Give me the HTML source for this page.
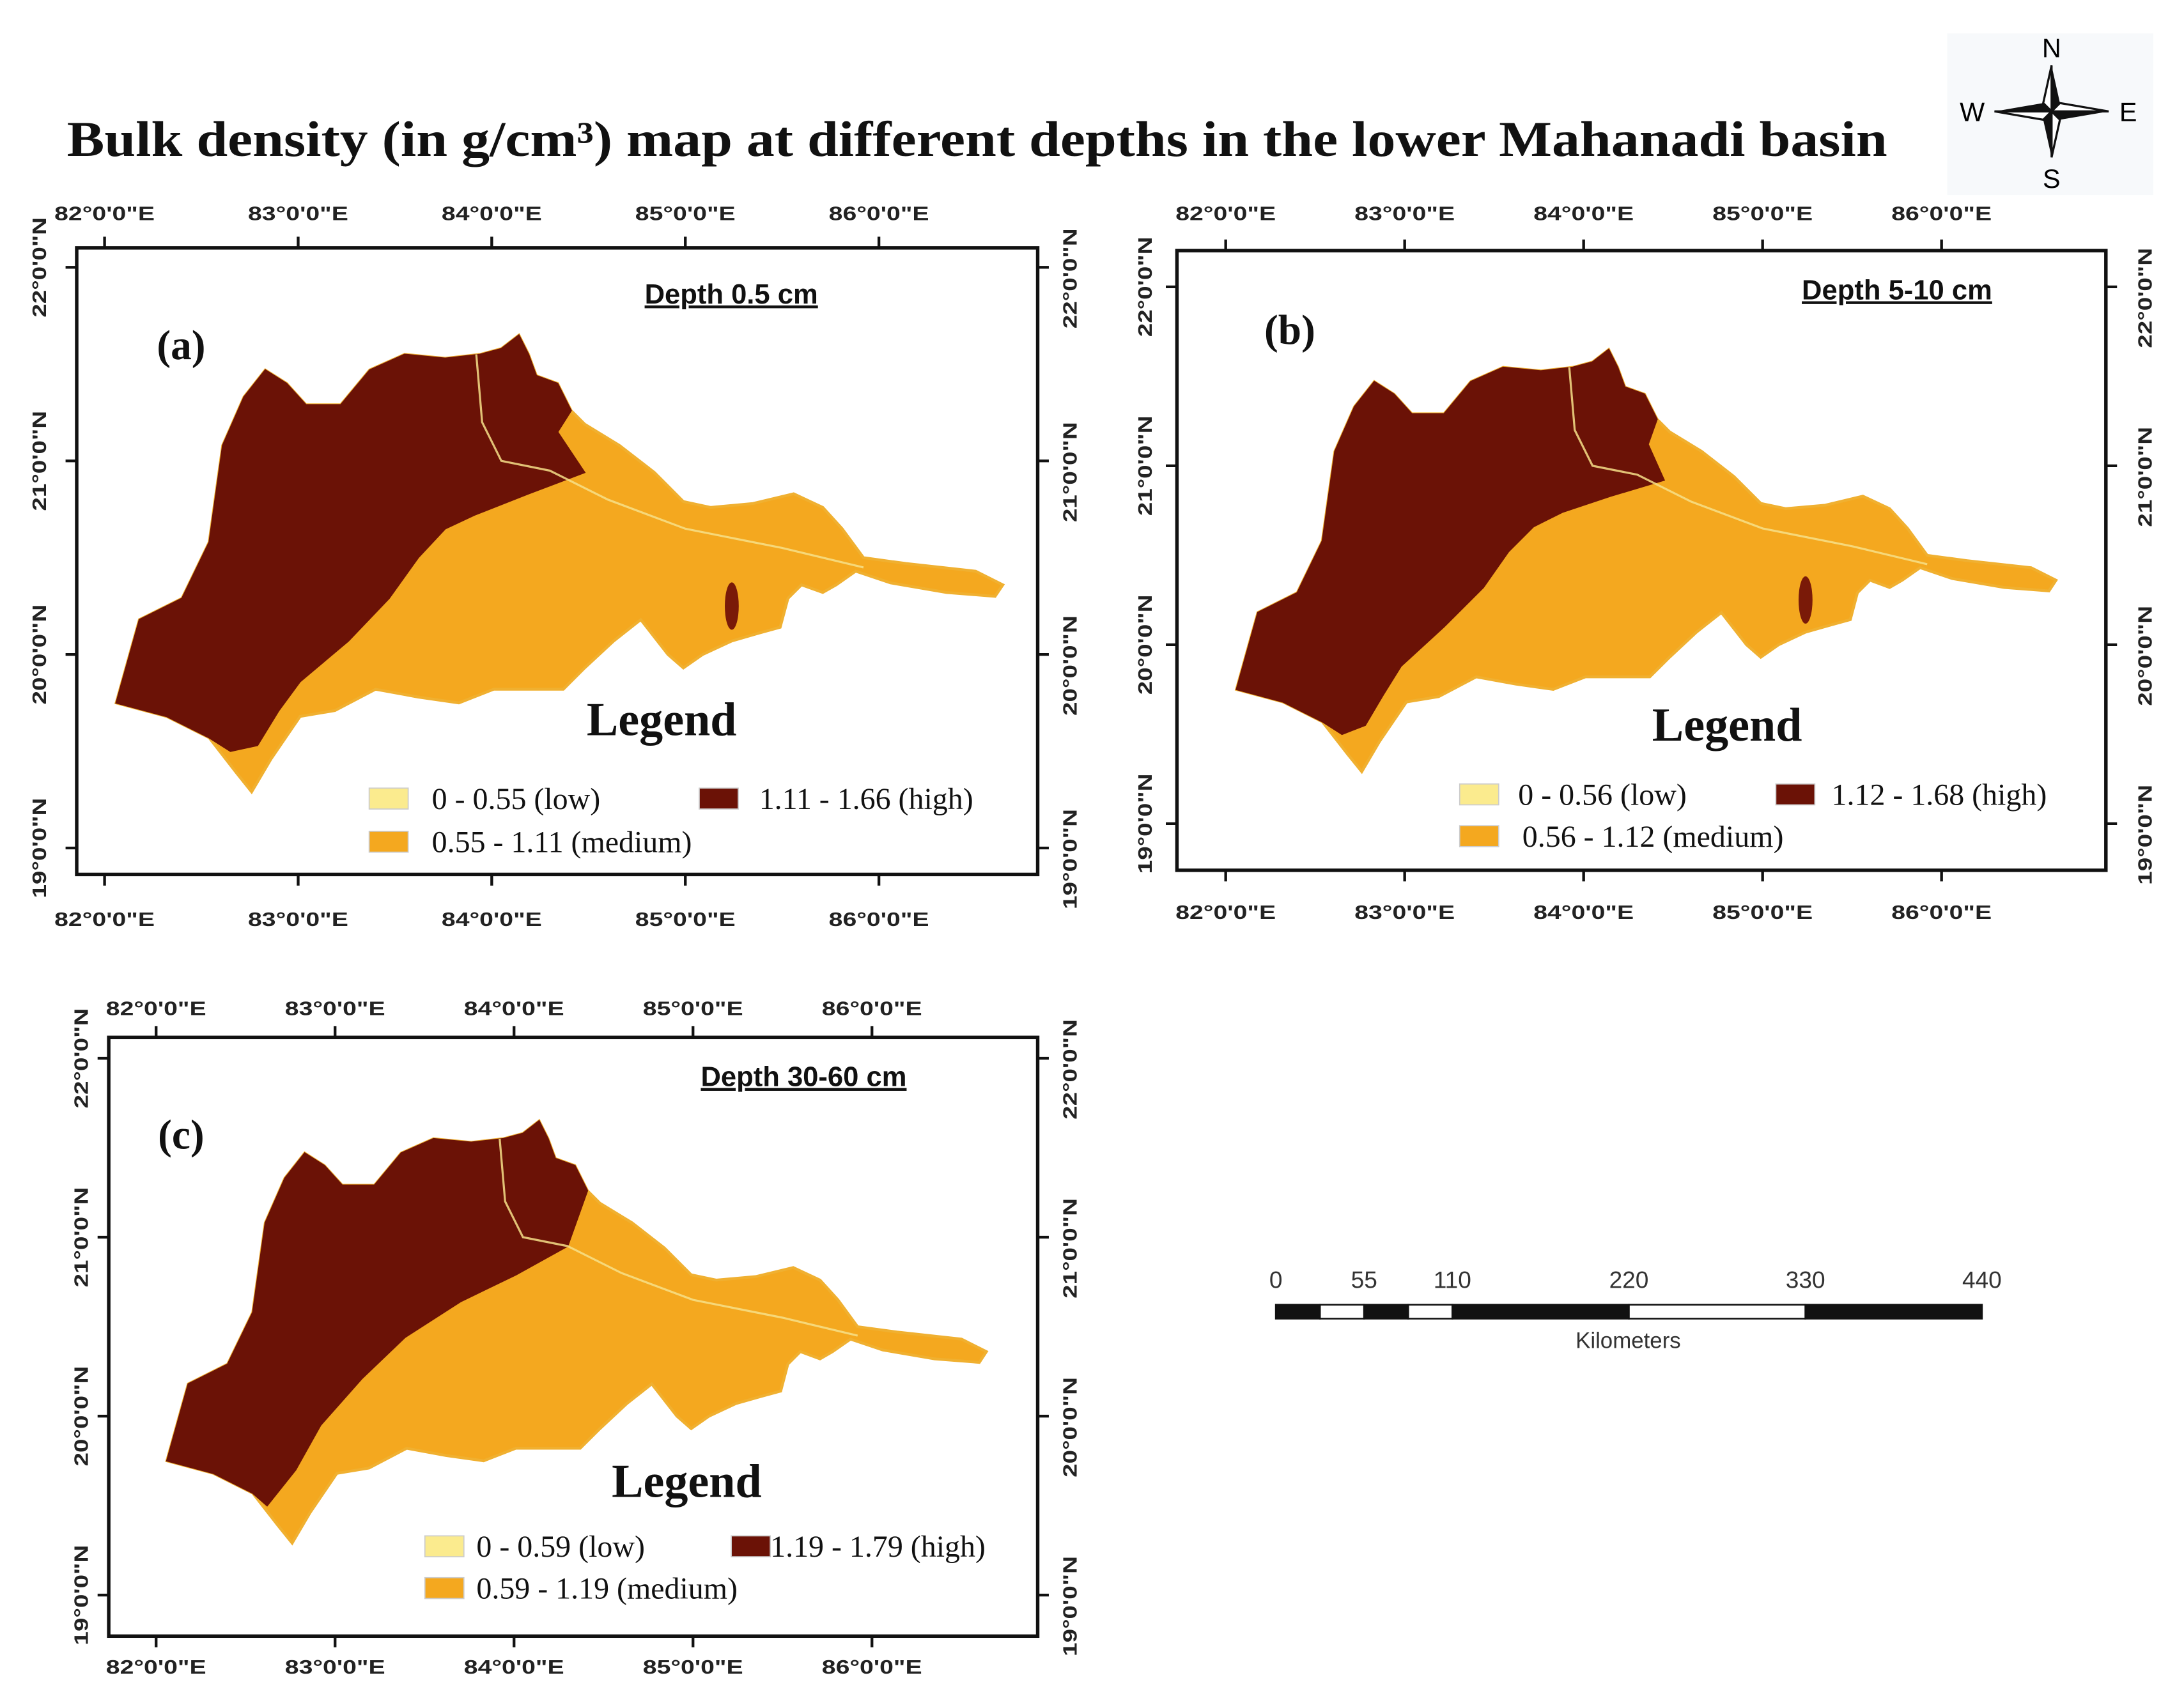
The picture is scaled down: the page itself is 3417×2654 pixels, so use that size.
<!DOCTYPE html>
<html><head><meta charset="utf-8"><style>
html,body{margin:0;padding:0;background:#fff;}
svg{display:block;}
.tick{font-family:"Liberation Sans",sans-serif;font-weight:bold;font-size:14px;fill:#222;}
.ser{font-family:"Liberation Serif",serif;fill:#111;}
</style></head><body>
<svg id="fig" xmlns="http://www.w3.org/2000/svg" width="3417" height="2654" viewBox="0 0 1568 1218">
<rect x="0" y="0" width="1568" height="1218" fill="#fff"/>
<text class="ser" x="48" y="112" font-size="36" font-weight="bold" textLength="1307" lengthAdjust="spacingAndGlyphs">Bulk density (in g/cm³) map at different depths in the lower Mahanadi basin</text>
<g>
<rect x="1398" y="24" width="148" height="116" fill="#f7f9fb"/>
<polygon points="1473,47 1479,74 1473,80" fill="#111"/><polygon points="1473,47 1467,74 1473,80" fill="#fff" stroke="#111" stroke-width="1.5"/>
<polygon points="1473,113 1467,86 1473,80" fill="#111"/><polygon points="1473,113 1479,86 1473,80" fill="#fff" stroke="#111" stroke-width="1.5"/>
<polygon points="1432,80 1467,74 1473,80" fill="#111"/><polygon points="1432,80 1467,86 1473,80" fill="#fff" stroke="#111" stroke-width="1.5"/>
<polygon points="1514,80 1479,86 1473,80" fill="#111"/><polygon points="1514,80 1479,74 1473,80" fill="#fff" stroke="#111" stroke-width="1.5"/>
<text x="1473" y="41" font-family="Liberation Sans,sans-serif" font-size="19" text-anchor="middle">N</text>
<text x="1473" y="135" font-family="Liberation Sans,sans-serif" font-size="19" text-anchor="middle">S</text>
<text x="1416" y="87" font-family="Liberation Sans,sans-serif" font-size="19" text-anchor="middle">W</text>
<text x="1528" y="87" font-family="Liberation Sans,sans-serif" font-size="19" text-anchor="middle">E</text>
</g>
<g id="panels"></g>
<g id="scalebar"></g>
</svg>
<script>
const NS="http://www.w3.org/2000/svg";
// basin outline (lon, lat)
const basinLon=[82.06,82.18,82.40,82.54,82.61,82.72,82.83,82.94,83.04,83.22,83.37,83.55,83.76,83.94,84.05,84.14,84.19,84.23,84.34,84.41,84.48,84.66,84.84,84.99,85.13,85.35,85.56,85.71,85.81,85.92,86.14,86.50,86.64,86.60,86.35,86.06,85.88,85.78,85.71,85.60,85.53,85.49,85.38,85.24,85.09,84.99,84.91,84.77,84.63,84.48,84.37,84.19,84.01,83.83,83.62,83.40,83.19,83.01,82.86,82.76,82.68,82.54,82.32];
const basinLat=[19.75,20.18,20.29,20.58,21.08,21.33,21.47,21.40,21.29,21.29,21.47,21.55,21.53,21.55,21.58,21.65,21.55,21.44,21.40,21.26,21.19,21.08,20.94,20.79,20.76,20.78,20.83,20.76,20.65,20.50,20.47,20.43,20.36,20.30,20.32,20.37,20.43,20.36,20.32,20.36,20.29,20.14,20.11,20.07,20.00,19.93,20.00,20.18,20.07,19.93,19.82,19.82,19.82,19.75,19.78,19.82,19.71,19.68,19.46,19.29,19.39,19.57,19.68];
// high-density region per depth
const highLonA=[82.06,82.18,82.40,82.54,82.61,82.72,82.83,82.94,83.04,83.22,83.37,83.55,83.76,83.94,84.05,84.14,84.19,84.23,84.34,84.41,84.34,84.48,84.19,83.91,83.76,83.62,83.47,83.26,83.01,82.90,82.79,82.65,82.54,82.32];
const highLatA=[19.75,20.18,20.29,20.58,21.08,21.33,21.47,21.40,21.29,21.29,21.47,21.55,21.53,21.55,21.58,21.65,21.55,21.44,21.40,21.26,21.15,20.94,20.83,20.72,20.65,20.50,20.29,20.07,19.86,19.71,19.53,19.50,19.57,19.68];
const highLonB=[82.06,82.18,82.40,82.54,82.61,82.72,82.83,82.94,83.04,83.22,83.37,83.55,83.76,83.94,84.05,84.14,84.19,84.23,84.34,84.41,84.36,84.45,84.15,83.88,83.72,83.58,83.44,83.22,82.98,82.88,82.78,82.65,82.54,82.32];
const highLatB=[19.75,20.18,20.29,20.58,21.08,21.33,21.47,21.40,21.29,21.29,21.47,21.55,21.53,21.55,21.58,21.65,21.55,21.44,21.40,21.26,21.12,20.92,20.83,20.74,20.66,20.52,20.32,20.10,19.88,19.72,19.55,19.50,19.57,19.68];
const highLonC=[82.06,82.18,82.40,82.54,82.61,82.72,82.83,82.94,83.04,83.22,83.37,83.55,83.76,83.94,84.05,84.14,84.19,84.23,84.34,84.41,84.30,84.01,83.70,83.39,83.15,82.92,82.78,82.62,82.54,82.32];
const highLatC=[19.75,20.18,20.29,20.58,21.08,21.33,21.47,21.40,21.29,21.29,21.47,21.55,21.53,21.55,21.58,21.65,21.55,21.44,21.40,21.26,20.95,20.79,20.64,20.44,20.21,19.95,19.70,19.50,19.57,19.68];
const riverLon=[83.92,83.95,84.05,84.30,84.60,85.00,85.50,85.92];
const riverLat=[21.55,21.20,21.00,20.95,20.80,20.65,20.55,20.45];
const lonTicks=[82,83,84,85,86];
const latTicks=[22,21,20,19];
const lonLabels=['82°0\'0"E','83°0\'0"E','84°0\'0"E','85°0\'0"E','86°0\'0"E'];
const latLabels=['22°0\'0"N','21°0\'0"N','20°0\'0"N','19°0\'0"N'];
const scaleKm=[0,55,110,220,330,440];
const legendLow=['0 - 0.55 (low)','0 - 0.56 (low)','0 - 0.59 (low)'];
const legendMed=['0.55 - 1.11 (medium)','0.56 - 1.12 (medium)','0.59 - 1.19 (medium)'];
const legendHigh=['1.11 - 1.66 (high)','1.12 - 1.68 (high)','1.19 - 1.79 (high)'];

const panels=[
 {id:'a',label:'(a)',depth:'Depth 0.5 cm',frame:[55,178,745,628],x0:75,y0:470,k:139,hl:highLonA,ht:highLatA,
  lblTop:153,lblBot:660,lx:28,rx:768,lab:[130,258],dep:[525,218],leg:[475,528],
  low:[265,566,310],high:[502,530,545],med:[265,597,310],blob:true},
 {id:'b',label:'(b)',depth:'Depth 5-10 cm',frame:[845,180,1512,625],x0:880,y0:463,k:128.5,hl:highLonB,ht:highLatB,
  lblTop:153,lblBot:655,lx:822,rx:1540,lab:[926,247],dep:[1362,215],leg:[1240,532],
  low:[1048,563,1090],high:[1275,1303,1315],med:[1048,593,1093],blob:true},
 {id:'c',label:'(c)',depth:'Depth 30-60 cm',frame:[78,745,745,1175],x0:112,y0:1017,k:128.5,hl:highLonC,ht:highLatC,
  lblTop:724,lblBot:1197,lx:58,rx:768,lab:[130,825],dep:[577,780],leg:[493,1075],
  low:[305,1103,342],high:[525,552,553],med:[305,1133,342],blob:false}
];
function mk(tag,attrs,parent,txt){const e=document.createElementNS(NS,tag);for(const k in attrs)e.setAttribute(k,attrs[k]);if(txt!==undefined)e.textContent=txt;parent.appendChild(e);return e;}
const root=document.getElementById('panels');
panels.forEach((p,pi)=>{
  const xS=lon=>p.x0+(lon-82)*p.k;
  const yS=lat=>p.y0-(lat-20)*p.k;
  const pts=(lo,la)=>lo.map((v,i)=>xS(v).toFixed(1)+','+yS(la[i]).toFixed(1)).join(' ');
  const g=mk('g',{},root);
  
  
  const f=p.frame;
  const fr=mk('rect',{x:f[0],y:f[1],width:f[2]-f[0],height:f[3]-f[1],fill:'#fff',stroke:'#111','stroke-width':2.5},g);
  
  
  const basin=mk('polygon',{points:pts(basinLon,basinLat),fill:'#F4A81F',stroke:'#F0B030','stroke-width':2},g);
  
  
  const hi=mk('polygon',{points:pts(p.hl,p.ht),fill:'#6B1206',stroke:'#6B1206','stroke-width':1},g);
  
  
  if(p.blob){
    const b=mk('ellipse',{cx:xS(85.24),cy:yS(20.25),rx:5,ry:17,fill:'#7A1A08'},g);
    
    
  }
  const rv=mk('polyline',{points:pts(riverLon,riverLat),fill:'none',stroke:'#F6E08A','stroke-width':1.5,opacity:0.85},g);
  
  
  lonTicks.forEach((lon,i)=>{
    const x=xS(lon);
    mk('line',{x1:x,y1:f[1],x2:x,y2:f[1]-8,stroke:'#111','stroke-width':2},g);
    mk('line',{x1:x,y1:f[3],x2:x,y2:f[3]+8,stroke:'#111','stroke-width':2},g);
    const t1=mk('text',{x:x,y:p.lblTop+5,class:'tick','text-anchor':'middle',textLength:72,lengthAdjust:'spacingAndGlyphs'},g,lonLabels[i]);
    
    
    const t2=mk('text',{x:x,y:p.lblBot+5,class:'tick','text-anchor':'middle',textLength:72,lengthAdjust:'spacingAndGlyphs'},g,lonLabels[i]);
    
    
  });
  latTicks.forEach((lat,i)=>{
    const y=yS(lat);
    mk('line',{x1:f[0],y1:y,x2:f[0]-8,y2:y,stroke:'#111','stroke-width':2},g);
    mk('line',{x1:f[2],y1:y,x2:f[2]+8,y2:y,stroke:'#111','stroke-width':2},g);
    const t1=mk('text',{x:0,y:5,class:'tick','text-anchor':'middle',transform:`translate(${p.lx},${y}) rotate(-90)`,textLength:72,lengthAdjust:'spacingAndGlyphs'},g,latLabels[i]);
    
    
    const t2=mk('text',{x:0,y:5,class:'tick','text-anchor':'middle',transform:`translate(${p.rx},${y+8}) rotate(-90)`,textLength:72,lengthAdjust:'spacingAndGlyphs'},g,latLabels[i]);
    
    
  });
  const pl=mk('text',{x:p.lab[0],y:p.lab[1],class:'ser','font-size':30,'font-weight':'bold','text-anchor':'middle'},g,p.label);
  
  
  const dl=mk('text',{x:p.dep[0],y:p.dep[1],'font-family':'Liberation Sans,sans-serif','font-size':20,'font-weight':'bold','text-anchor':'middle','text-decoration':'underline',fill:'#111'},g,p.depth);
  
  
  const lt=mk('text',{x:p.leg[0],y:p.leg[1],class:'ser','font-size':34,'font-weight':'bold','text-anchor':'middle'},g,'Legend');
  
  
  const entries=[[p.low[0],p.low[1],p.low[2],'#FBEB8E',legendLow[pi]],[p.high[0],p.low[1],p.high[2],'#6B1206',legendHigh[pi]],[p.med[0],p.med[1],p.med[2],'#F4A81F',legendMed[pi]]];
  entries.forEach(e=>{
    const eg=mk('g',{},g);
    
    
    mk('rect',{x:e[0],y:e[1],width:28,height:15,fill:e[3],stroke:'#ccc','stroke-width':0.8},eg);
    mk('text',{x:e[2],y:e[1]+15,class:'ser','font-size':22},eg,e[4]);
  });
});
// scale bar
const sb=document.getElementById('scalebar');
const kmX=km=>916+km*(1423-916)/440;
const segs=[0,27.5,55,82.5,110,220,330,440];
for(let i=0;i<segs.length-1;i++){
  const r=mk('rect',{x:kmX(segs[i]),y:937,width:kmX(segs[i+1])-kmX(segs[i]),height:10,fill:i%2?'#fff':'#111',stroke:'#111','stroke-width':1.2},sb);
  
  
}
scaleKm.forEach(km=>{
  const t=mk('text',{x:kmX(km),y:925,'font-family':'Liberation Sans,sans-serif','font-size':17,'text-anchor':'middle',fill:'#333'},sb,String(km));
  
  
});
const kt=mk('text',{x:1169,y:968,'font-family':'Liberation Sans,sans-serif','font-size':16,'text-anchor':'middle',fill:'#333'},sb,'Kilometers');


</script>
</body></html>
